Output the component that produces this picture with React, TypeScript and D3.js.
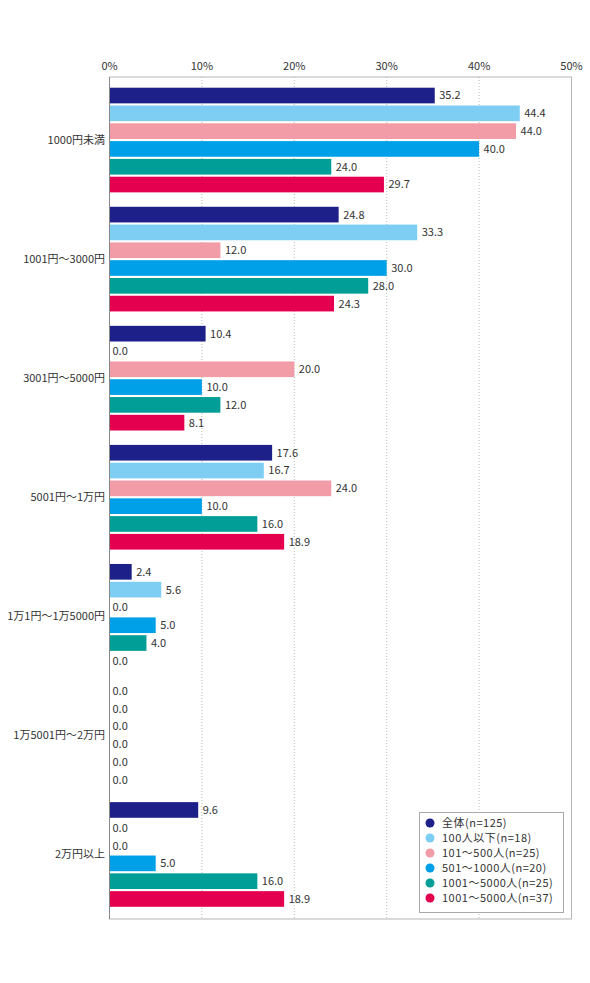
import { scaleBand, scaleLinear } from "d3";

const categories = [
  "1000円未満",
  "1001円～3000円",
  "3001円～5000円",
  "5001円～1万円",
  "1万1円～1万5000円",
  "1万5001円～2万円",
  "2万円以上",
];

const seriesNames = [
  "全体(n=125)",
  "100人以下(n=18)",
  "101～500人(n=25)",
  "501～1000人(n=20)",
  "1001～5000人(n=25)",
  "1001～5000人(n=37)",
];

const total = [35.2, 24.8, 10.4, 17.6, 2.4, 0.0, 9.6];
const under100 = [44.4, 33.3, 0.0, 16.7, 5.6, 0.0, 0.0];
const from101to500 = [44.0, 12.0, 20.0, 24.0, 0.0, 0.0, 0.0];
const from501to1000 = [40.0, 30.0, 10.0, 10.0, 5.0, 0.0, 5.0];
const from1001to5000a = [24.0, 28.0, 12.0, 16.0, 4.0, 0.0, 16.0];
const from1001to5000b = [29.7, 24.3, 8.1, 18.9, 0.0, 0.0, 18.9];

const xTicks = [0, 10, 20, 30, 40, 50];

const COLORS = ["#1d2088", "#7ecef4", "#f29ca8", "#00a0e9", "#009e96", "#e4004f"];
const FONT = "'Noto Sans CJK JP', 'Noto Sans', sans-serif";
const TEXT = "#333";

const WIDTH = 590;
const HEIGHT = 983;
const PLOT = { left: 109.5, right: 571.5, top: 77, bottom: 919 };

export default function App() {
  const series = [total, under100, from101to500, from501to1000, from1001to5000a, from1001to5000b];

  const x = scaleLinear().domain([0, 50]).range([PLOT.left, PLOT.right]);
  const y = scaleBand<string>().domain(categories).range([80.5, 914]);
  const inner = scaleBand<number>()
    .domain(series.map((_, i) => i))
    .range([7.2, y.bandwidth() - 7.2])
    .paddingInner(0.12);

  return (
    <div style={{ position: "absolute", left: 0, top: 0 }}>
      <svg width={WIDTH} height={HEIGHT} style={{ display: "block", background: "#fff" }}>
        <rect x={0} y={0} width={WIDTH} height={HEIGHT} fill="#fff" />

        {/* grid */}
        {xTicks.slice(1, -1).map((t) => (
          <line
            key={t}
            x1={x(t)}
            x2={x(t)}
            y1={PLOT.top}
            y2={PLOT.bottom}
            stroke="#aaa"
            strokeWidth={0.8}
            strokeDasharray="1,2"
          />
        ))}
        <rect
          x={PLOT.left}
          y={PLOT.top}
          width={PLOT.right - PLOT.left}
          height={PLOT.bottom - PLOT.top}
          fill="none"
          stroke="#b5b5b5"
          strokeWidth={1}
        />

        {xTicks.map((t) => (
          <text
            key={t}
            x={x(t)}
            y={70}
            textAnchor="middle"
            fontFamily={FONT}
            fontSize={11}
            fill={TEXT}
          >
            {t}%
          </text>
        ))}

        {/* bars */}
        {categories.map((c, ci) => (
          <g key={c} transform={`translate(0, ${y(c)})`}>
            {series.map((vals, si) => {
              const v = vals[ci];
              const by = inner(si) ?? 0;
              const bh = inner.bandwidth();
              return (
                <g key={si}>
                  {v > 0 && (
                    <rect
                      x={x(0)}
                      y={by}
                      width={x(v) - x(0)}
                      height={bh}
                      fill={COLORS[si]}
                    />
                  )}
                  <text
                    x={x(v) + (v > 0 ? 4.5 : 3)}
                    y={by + bh / 2}
                    dy="0.36em"
                    fontFamily={FONT}
                    fontSize={11}
                    fill={TEXT}
                  >
                    {v.toFixed(1)}
                  </text>
                </g>
              );
            })}
            <text
              x={105}
              y={y.bandwidth() / 2}
              dy="0.36em"
              textAnchor="end"
              fontFamily={FONT}
              fontSize={11}
              fill={TEXT}
            >
              {c}
            </text>
          </g>
        ))}
        <line x1={PLOT.left} x2={PLOT.left} y1={PLOT.top} y2={PLOT.bottom} stroke="#888" strokeWidth={1} />

        {/* legend */}
        <rect x={419.5} y={812.5} width={144} height={100} fill="#fff" stroke="#aaa" strokeWidth={1} />
        {seriesNames.map((n, i) => (
          <g key={n} transform={`translate(430, ${823 + i * 15})`}>
            <circle r={4.5} fill={COLORS[i]} />
            <text
              x={12}
              dy="0.36em"
              fontFamily={FONT}
              fontSize={11}
              letterSpacing={0.5}
              fill={TEXT}
            >
              {n}
            </text>
          </g>
        ))}
      </svg>
    </div>
  );
}
